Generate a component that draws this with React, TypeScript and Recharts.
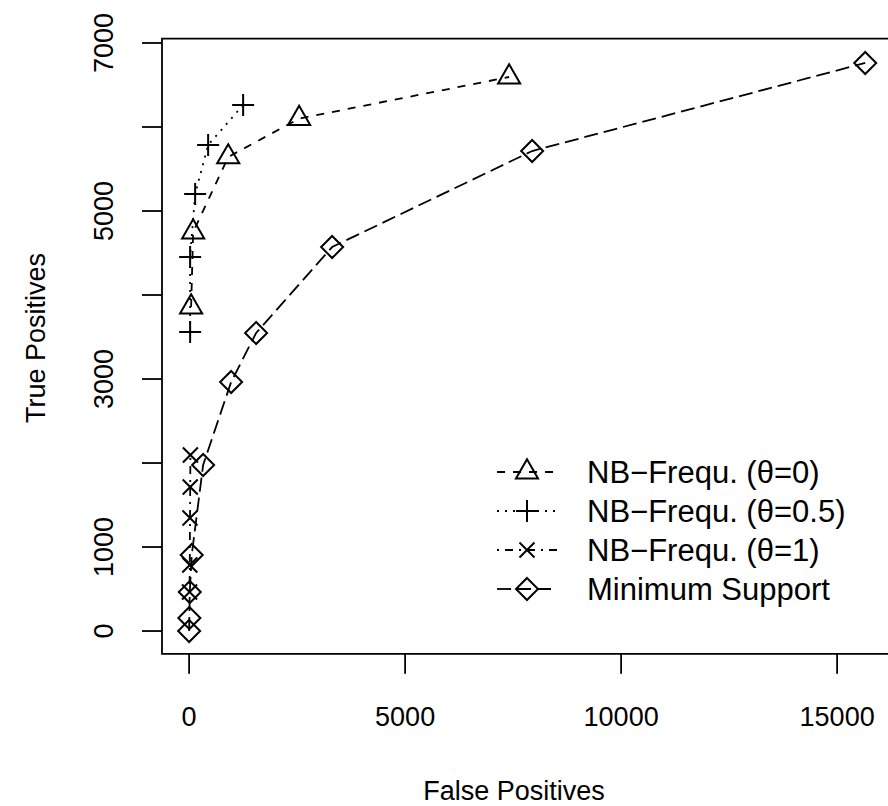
import React from 'react';
import { ScatterChart, Scatter, XAxis, YAxis, ReferenceArea } from 'recharts';

// ---- data ----
const triFP = [46, 93, 905, 2546, 7407];
const triTP = [3857, 4750, 5643, 6100, 6595];

const plusFP = [23, 23, 139, 440, 1250];
const plusTP = [3560, 4452, 5202, 5786, 6262];

const crossFP = [10, 15, 20, 25, 30];
const crossTP = [464, 786, 1345, 1714, 2095];

const diaFP = [0, 5, 15, 60, 324, 972, 1550, 3310, 7940, 15650];
const diaTP = [0, 155, 464, 905, 1976, 2964, 3548, 4571, 5714, 6762];

const xTicks = [0, 5000, 10000, 15000];
const yTicks = [0, 1000, 2000, 3000, 4000, 5000, 6000, 7000];
const yTickLabels = ['0', '1000', '', '3000', '', '5000', '', '7000'];

const seriesNames = ['NB\u2212Frequ. (\u03b8=0)', 'NB\u2212Frequ. (\u03b8=0.5)', 'NB\u2212Frequ. (\u03b8=1)', 'Minimum Support'];
const xTitle = 'False Positives';
const yTitle = 'True Positives';

// ---- layout ----
const W = 900;
const H = 806;
const X_DOMAIN: [number, number] = [-628, 16328];
const Y_DOMAIN: [number, number] = [-271, 7051];
const PLOT_LEFT = 162;
const PLOT_RIGHT = 894.5;
const PLOT_TOP = 38.7;
const PLOT_BOTTOM = 653.8;
const AXIS_H = 60;
const AXIS_W = 60;
const FONT = "'Liberation Sans', Arial, Helvetica, sans-serif";
const FS = 27;
const LEG_FS = 31;
const SW = 1.8;

const zip = (xs: number[], ys: number[]) => xs.map((x, i) => ({ x, y: ys[i] }));

const dashes = ['8 8', '2 6', '2 6 8 6', '14 6'];

function Marker({ kind, cx, cy }: { kind: number; cx: number; cy: number }) {
  const common = { fill: 'none', stroke: '#000', strokeWidth: 2 };
  if (kind === 0) {
    const xc = 8.2;
    const top = cy - 1.555 * xc;
    const bot = cy + 0.7776 * xc;
    const hw = 1.3468 * xc;
    return <polygon points={`${cx},${top} ${cx - hw},${bot} ${cx + hw},${bot}`} {...common} />;
  }
  if (kind === 1) {
    const r = 11;
    return (
      <g {...common}>
        <line x1={cx - r} y1={cy} x2={cx + r} y2={cy} />
        <line x1={cx} y1={cy - r} x2={cx} y2={cy + r} />
      </g>
    );
  }
  if (kind === 2) {
    const r = 7.5;
    return (
      <g {...common}>
        <line x1={cx - r} y1={cy - r} x2={cx + r} y2={cy + r} />
        <line x1={cx - r} y1={cy + r} x2={cx + r} y2={cy - r} />
      </g>
    );
  }
  const r = 11;
  return <polygon points={`${cx},${cy - r} ${cx + r},${cy} ${cx},${cy + r} ${cx - r},${cy}`} {...common} />;
}

const makeShape = (kind: number) => (props: any) => {
  const { cx, cy } = props;
  if (cx == null || cy == null) return <g />;
  return <Marker kind={kind} cx={cx} cy={cy} />;
};

const XTick = (props: any) => {
  const { x, payload } = props;
  return (
    <g>
      <line x1={x} y1={PLOT_BOTTOM} x2={x} y2={PLOT_BOTTOM + 20} stroke="#000" strokeWidth={SW} />
      <text x={x} y={716} dy="0.36em" textAnchor="middle" fontFamily={FONT} fontSize={FS} fill="#000">
        {payload.value}
      </text>
    </g>
  );
};

const YTick = (props: any) => {
  const { y, payload } = props;
  const idx = yTicks.indexOf(payload.value);
  const label = idx >= 0 ? yTickLabels[idx] : '';
  return (
    <g>
      <line x1={PLOT_LEFT - 20} y1={y} x2={PLOT_LEFT} y2={y} stroke="#000" strokeWidth={SW} />
      {label ? (
        <text
          x={103}
          y={y}
          dy="0.36em"
          textAnchor="middle"
          transform={`rotate(-90 103 ${y})`}
          fontFamily={FONT}
          fontSize={FS}
          fill="#000"
        >
          {label}
        </text>
      ) : null}
    </g>
  );
};

function LegendOverlay() {
  const rows = [472, 511, 550, 589];
  return (
    <svg width={888} height={806} style={{ position: 'absolute', left: 0, top: 0, pointerEvents: 'none' }}>
      {seriesNames.map((name, i) => (
        <g key={name}>
          <line
            x1={497}
            y1={rows[i]}
            x2={557}
            y2={rows[i]}
            stroke="#000"
            strokeWidth={SW}
            strokeDasharray={dashes[i]}
          />
          <Marker kind={i} cx={527} cy={rows[i]} />
          <text x={587} y={rows[i]} dy="0.36em" fontFamily={FONT} fontSize={LEG_FS} fill="#000">
            {name}
          </text>
        </g>
      ))}
      <text x={514} y={790} dy="0.36em" textAnchor="middle" fontFamily={FONT} fontSize={FS} fill="#000">
        {xTitle}
      </text>
      <text
        x={35}
        y={338}
        dy="0.36em"
        textAnchor="middle"
        transform="rotate(-90 35 338)"
        fontFamily={FONT}
        fontSize={FS}
        fill="#000"
      >
        {yTitle}
      </text>
    </svg>
  );
}

export default function App() {
  const series = [zip(triFP, triTP), zip(plusFP, plusTP), zip(crossFP, crossTP), zip(diaFP, diaTP)];
  return (
    <div style={{ position: 'absolute', left: 0, top: 0, width: 888, height: 806, overflow: 'hidden', background: '#fff' }}>
      <ScatterChart
        width={W}
        height={H}
        margin={{
          top: PLOT_TOP,
          right: W - PLOT_RIGHT,
          bottom: H - PLOT_BOTTOM - AXIS_H,
          left: PLOT_LEFT - AXIS_W,
        }}
      >
        <XAxis
          type="number"
          dataKey="x"
          domain={X_DOMAIN}
          ticks={xTicks}
          allowDataOverflow
          height={AXIS_H}
          axisLine={false}
          tickLine={false}
          tick={<XTick />}
          interval={0}
        />
        <YAxis
          type="number"
          dataKey="y"
          domain={Y_DOMAIN}
          ticks={yTicks}
          allowDataOverflow
          width={AXIS_W}
          axisLine={false}
          tickLine={false}
          tick={<YTick />}
          interval={0}
        />
        <ReferenceArea
          x1={X_DOMAIN[0]}
          x2={X_DOMAIN[1]}
          y1={Y_DOMAIN[0]}
          y2={Y_DOMAIN[1]}
          fill="none"
          stroke="#000"
          strokeWidth={SW}
          ifOverflow="visible"
        />
        {series.map((d, i) => (
          <Scatter
            key={i}
            name={seriesNames[i]}
            data={d}
            isAnimationActive={false}
            line={{ stroke: '#000', strokeWidth: SW, strokeDasharray: dashes[i] }}
            lineType="joint"
            shape={makeShape(i)}
          />
        ))}
      </ScatterChart>
      <LegendOverlay />
    </div>
  );
}
